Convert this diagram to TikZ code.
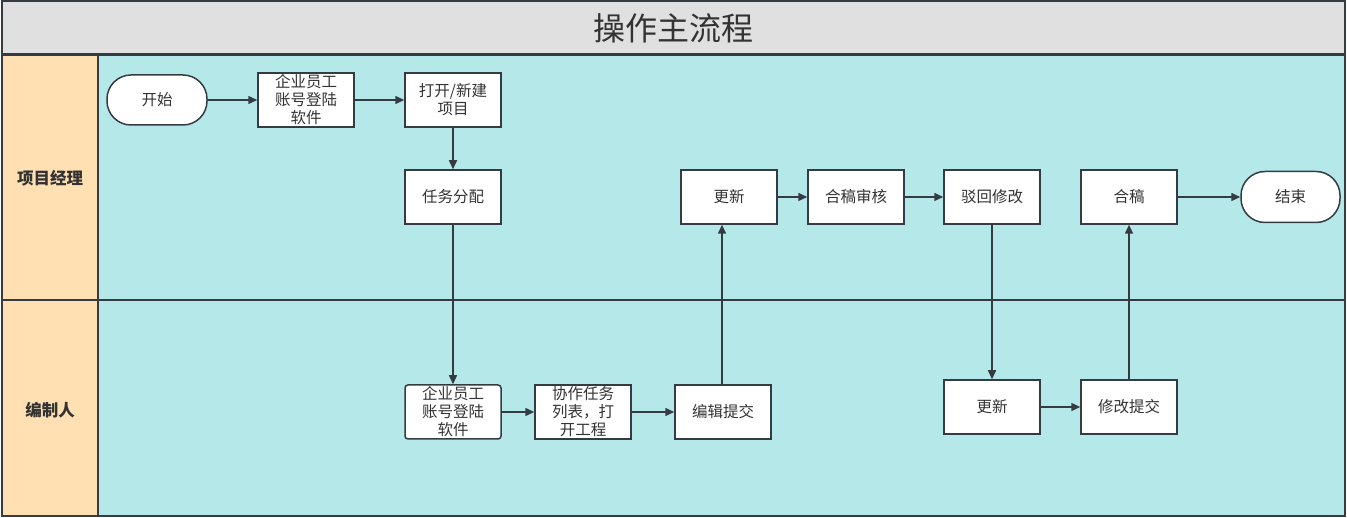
\documentclass[tikz,border=0pt]{standalone}
\usepackage{fontspec}
\setmainfont{Noto Sans CJK SC}
\usetikzlibrary{arrows.meta}
\definecolor{bordc}{HTML}{343B42}
\definecolor{titlebg}{HTML}{E0E0E0}
\definecolor{headbg}{HTML}{FFE0B2}
\definecolor{lanebg}{HTML}{B5E9E9}
\definecolor{txtc}{HTML}{333333}
\tikzset{
  frame/.style={draw=bordc, line width=1.5pt},
  box/.style={draw=bordc, line width=1.5pt, fill=white, minimum width=96pt, minimum height=54pt, inner sep=0pt, align=center, text=txtc, font=\fontsize{15.5}{18}\selectfont},
  rbox/.style={box, rounded corners=3pt},
  term/.style={box, minimum width=100pt, minimum height=50pt, rounded corners=24pt},
  arr/.style={draw=bordc, line width=1.5pt, -{Triangle[length=9pt,width=8pt]}},
  lanelabel/.style={text=txtc, font=\fontsize{16.5}{19}\selectfont\bfseries},
}
\begin{document}
\begin{tikzpicture}[x=1pt, y=-1pt]
\useasboundingbox (0,0) rectangle (1347,518);
% title
\fill[titlebg] (2,1) rectangle (1345,54);
\draw[frame] (2,1) rectangle (1345,54);
\node[text=txtc, font=\fontsize{32}{36}\selectfont] (title) at (673,28) {操作主流程};
% lanes
\fill[headbg] (2,55) rectangle (98,516);
\fill[lanebg] (98,55) rectangle (1345,516);
\draw[frame] (2,55) rectangle (1345,516);
\draw[frame] (98,55) -- (98,516);
\draw[frame] (2,300) -- (1345,300);
\node[lanelabel] (l1) at (50,178) {项目经理};
\node[lanelabel] (l2) at (50,410) {编制人};
% nodes lane 1
\node[term] (start) at (157,100) {开始};
\node[box] (login1) at (306,100) {企业员工\\账号登陆\\软件};
\node[box] (open) at (453,100) {打开/新建\\项目};
\node[box] (assign) at (453,197) {任务分配};
\node[box] (upd1) at (729,197) {更新};
\node[box] (review) at (856,197) {合稿审核};
\node[box] (reject) at (992,197) {驳回修改};
\node[box] (merge) at (1129,197) {合稿};
\node[term, minimum width=99pt, minimum height=51pt] (end) at (1290.5,197) {结束};
% nodes lane 2
\node[rbox] (login2) at (453,412) {企业员工\\账号登陆\\软件};
\node[box] (coop) at (583,412) {协作任务\\列表，打\\开工程};
\node[box] (edit) at (723,412) {编辑提交};
\node[box] (upd2) at (992,407) {更新};
\node[box] (modify) at (1129,407) {修改提交};
% connectors
\draw[arr] (start) -- (login1);
\draw[arr] (login1) -- (open);
\draw[arr] (open) -- (assign);
\draw[arr] (assign) -- (login2);
\draw[arr] (login2) -- (coop);
\draw[arr] (coop) -- (edit);
\draw[arr] ([xshift=-1pt]edit.north) -- ([xshift=-1pt]edit.north |- upd1.south);
\draw[arr] (upd1) -- (review);
\draw[arr] (review) -- (reject);
\draw[arr] (reject) -- (upd2);
\draw[arr] (upd2) -- (modify);
\draw[arr] (modify) -- (merge);
\draw[arr] (merge) -- (end);
\end{tikzpicture}
\end{document}
